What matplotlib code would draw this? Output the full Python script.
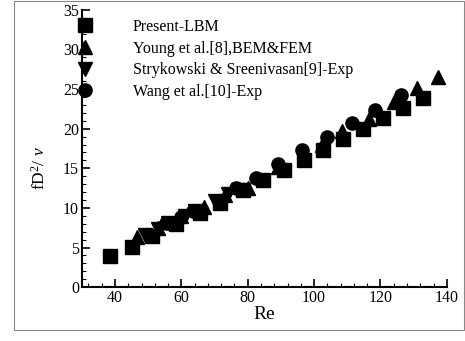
import numpy as np
import matplotlib
matplotlib.use("Agg")
import matplotlib.pyplot as plt
from matplotlib.ticker import MultipleLocator
from matplotlib.patches import Rectangle

plt.rcParams['font.family'] = ['Liberation Serif', 'DejaVu Serif']
plt.rcParams['mathtext.fontset'] = 'custom'
plt.rcParams['mathtext.rm'] = 'Liberation Serif'
plt.rcParams['mathtext.it'] = 'Liberation Serif:italic'

# Present LBM results
lbm_re = [38.5, 45, 51, 58.5, 65.5, 71.5, 78.5, 84.5, 91, 97, 102.7, 108.7, 114.7, 120.7, 126.7, 132.7]
lbm_f = [3.9, 5.1, 6.4, 8.0, 9.3, 10.6, 12.2, 13.5, 14.8, 16.1, 17.3, 18.7, 20.0, 21.4, 22.6, 23.9]

# Young et al. [8], BEM & FEM
young_re = [46.5, 53, 60, 66.8, 73, 80, 89, 102.5, 108.5, 116.5, 124, 131, 137.3]
young_f = [6.3, 7.5, 9.0, 10.1, 11.6, 12.5, 15.2, 18.0, 19.7, 21.2, 23.4, 25.2, 26.5]

# Strykowski & Sreenivasan [9], experiment
stry_re = [49, 53, 56, 61, 64, 70, 74, 77]
stry_f = [6.6, 7.3, 8.1, 9.0, 9.6, 10.9, 11.7, 12.3]

# Wang et al. [10], experiment
wang_re = [55.5, 60, 63.5, 76.5, 82.5, 89, 96.3, 103.8, 111.3, 118.3, 126.3]
wang_f = [8.1, 8.8, 9.6, 12.5, 13.8, 15.6, 17.3, 18.9, 20.7, 22.4, 24.3]

labels = ["Present-LBM", "Young et al.[8],BEM&FEM",
          "Strykowski & Sreenivasan[9]-Exp", "Wang et al.[10]-Exp"]

fig = plt.figure(figsize=(4.65, 3.41), dpi=100)
ax = fig.add_axes([0.176, 0.158, 0.785, 0.813])

ms = 9.5
ax.plot(lbm_re, lbm_f, 's', color='black', ms=ms, label=labels[0])
ax.plot(young_re, young_f, '^', color='black', ms=ms, label=labels[1])
ax.plot(stry_re, stry_f, 'v', color='black', ms=ms, label=labels[2])
ax.plot(wang_re, wang_f, 'o', color='black', ms=ms, label=labels[3])

ax.set_xlim(30, 140)
ax.set_ylim(0, 35)
ax.xaxis.set_major_locator(MultipleLocator(20))
ax.xaxis.set_minor_locator(MultipleLocator(4))
ax.yaxis.set_major_locator(MultipleLocator(5))
ax.yaxis.set_minor_locator(MultipleLocator(1))
ax.tick_params(which='both', direction='in', top=False, right=False, labelsize=11.5, pad=2)
ax.tick_params(which='major', length=6, width=1.2)
ax.tick_params(which='minor', length=3, width=0.8)
for s in ['top', 'right']:
    ax.spines[s].set_visible(False)
for s in ['left', 'bottom']:
    ax.spines[s].set_linewidth(1.5)

ax.set_xlabel("Re", fontsize=14, labelpad=0)
ax.set_ylabel(r"fD$^2$/ $\nu$", fontsize=12.5)
ax.yaxis.set_label_coords(-0.09, 0.43)

leg = ax.legend(loc='upper left', bbox_to_anchor=(-0.013, 0.968), frameon=False,
                fontsize=11.5, borderpad=0, borderaxespad=0, handlelength=1.0,
                handletextpad=2.5, labelspacing=0.36, numpoints=1)

fig.patches.append(Rectangle((0.03, 0.032), 0.968, 0.966, transform=fig.transFigure,
                             fill=False, edgecolor='#888888', linewidth=0.8))

fig.savefig("out.png", dpi=100)
